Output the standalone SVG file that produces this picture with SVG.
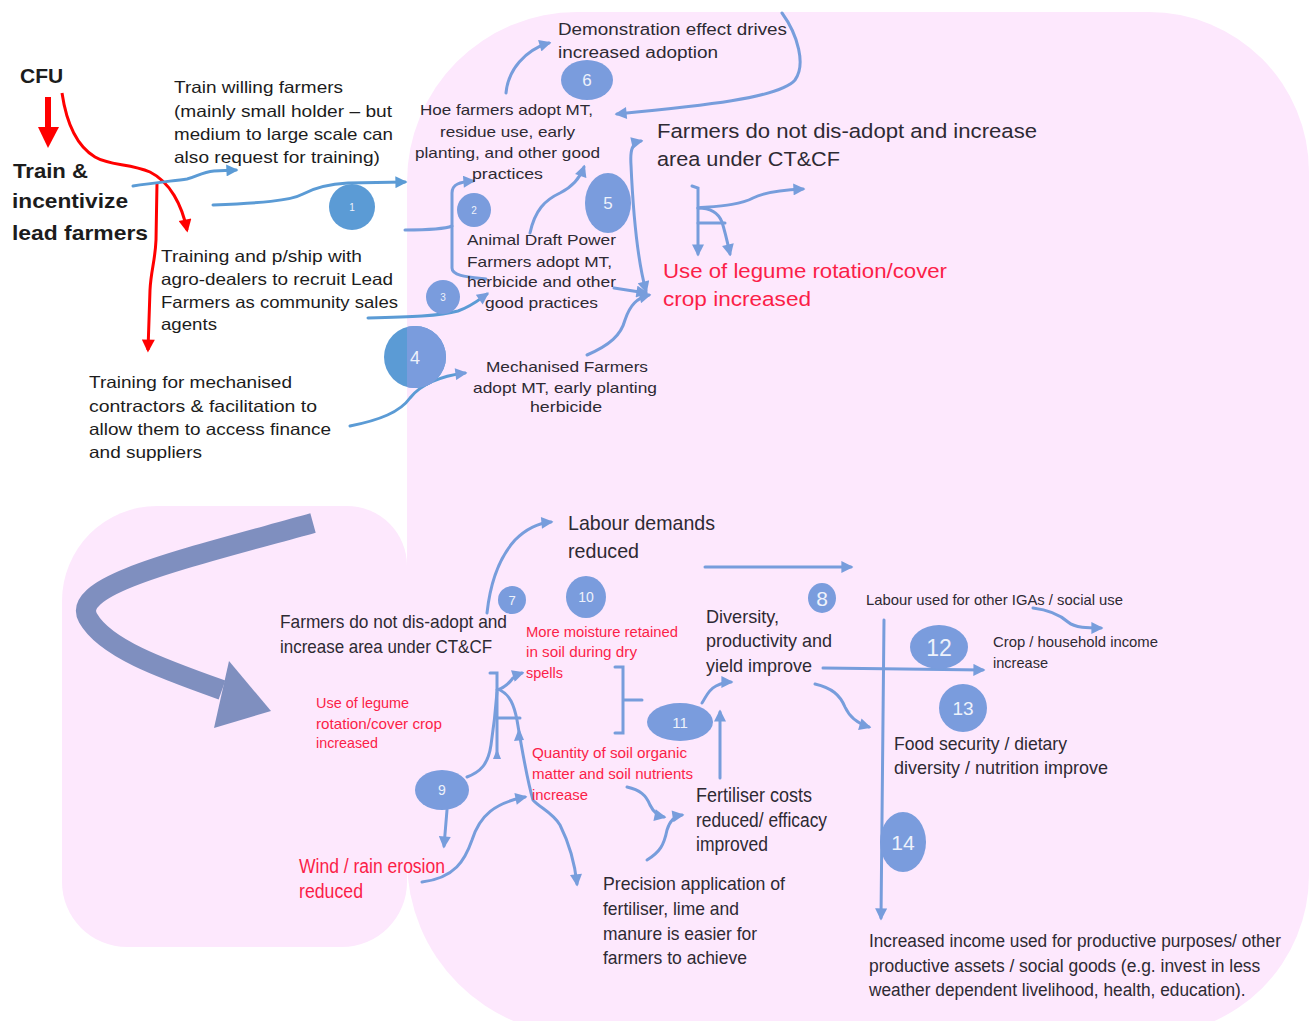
<svg xmlns="http://www.w3.org/2000/svg" width="1309" height="1021" viewBox="0 0 1309 1021">
<style>
.t{font-family:"Liberation Sans",Arial,sans-serif;fill:#1c1c1c}
.d{fill:#2e2a33}
.r{fill:#fb1e48}
.b{font-weight:bold}
.c{fill:none;stroke:#779ddc;stroke-width:3;stroke-linecap:round}
.co{fill:none;stroke:#5b9bd5;stroke-width:3;stroke-linecap:round}
.rc{fill:none;stroke:#ff0000;stroke-width:3}
.bi{fill:#7a9cdd}
.bo{fill:#5b9bd5}
.lbl{font-family:"Liberation Sans",Arial,sans-serif;fill:#eef2fb;text-anchor:middle}
</style>
<defs>
<marker id="ah" viewBox="0 0 10 10" markerUnits="userSpaceOnUse" markerWidth="13" markerHeight="12" refX="8" refY="5" orient="auto-start-reverse"><path d="M0,0 L10,5 L0,10 z" fill="#779ddc"/></marker>
<marker id="aho" viewBox="0 0 10 10" markerUnits="userSpaceOnUse" markerWidth="13" markerHeight="12" refX="8" refY="5" orient="auto"><path d="M0,0 L10,5 L0,10 z" fill="#5b9bd5"/></marker>
<marker id="ar" viewBox="0 0 10 10" markerUnits="userSpaceOnUse" markerWidth="15" markerHeight="13" refX="8" refY="5" orient="auto"><path d="M0,0 L10,5 L0,10 z" fill="#ff0000"/></marker>
<clipPath id="rightOf407"><rect x="407" y="300" width="60" height="120"/></clipPath>
</defs>

<g id="background">
<path d="M577,12 H1149 A160,160 0 0 1 1309,172 V875 A160,160 0 0 1 1149,1035 H582 A175,175 0 0 1 407,860 V182 A170,170 0 0 1 577,12 Z" fill="#fde8fd"/>
<path d="M157,506 H347 A60,60 0 0 1 407,566 V882 A65,65 0 0 1 342,947 H127 A65,65 0 0 1 62,882 V601 A95,95 0 0 1 157,506 Z" fill="#fde8fd"/>
</g>

<g id="connectors">
<line x1="48" y1="97" x2="48" y2="128" stroke="#ff0000" stroke-width="6"/>
<polygon points="38,127 59,127 48,148" fill="#ff0000"/>
<path class="rc" d="M62,93 C66,120 75,145 95,157 C110,166 130,163 150,172 C170,182 182,205 187,230" marker-end="url(#ar)"/>
<path class="rc" d="M157,183 L156,240 C155,262 151,270 150,290 L148,350" marker-end="url(#ar)"/>
<path class="co" d="M133,186 C152,183 172,181 187,179 C196,177 202,172 214,171 L236,170" marker-end="url(#aho)"/>
<path class="co" d="M213,205 C260,203 290,201 303,194 C314,188 330,184 348,183 L405,182" marker-end="url(#aho)"/>
<path class="co" d="M368,318 C410,317 440,316 458,311 C472,306 480,299 487,294" marker-end="url(#ah)"/>
<path class="co" d="M350,426 C380,420 400,412 410,398 C420,385 440,376 465,373" marker-end="url(#ah)"/>
<path class="c" d="M405,230 C430,230 445,229 452,226"/>
<path class="c" d="M486,279 C468,277 452,276 452,268 L452,193 C452,184 460,182 473,181" marker-end="url(#ah)"/>
<path class="c" d="M614,288 L646,293" marker-end="url(#ah)"/>
<path class="c" d="M646,291 C638,262 633,210 631,165 C630,150 632,143 641,141" marker-start="url(#ah)" marker-end="url(#ah)"/>
<path class="c" d="M530,233 C535,210 545,200 560,193 C572,187 580,178 584,167" marker-end="url(#ah)"/>
<path class="c" d="M587,355 C610,345 621,335 625,320 C630,305 637,298 649,295" marker-end="url(#ah)"/>
<path class="c" d="M506,93 C508,70 525,50 549,43" marker-end="url(#ah)"/>
<path class="c" d="M782,13 C798,35 806,65 795,80 C780,98 700,106 617,114" marker-end="url(#ah)"/>
<path class="c" d="M692,186 L698,188 L698,254" marker-end="url(#ah)"/>
<path class="c" d="M698,223 L725,223"/>
<path class="c" d="M698,208 C710,208 718,212 722,222 C726,235 728,245 730,254" marker-end="url(#ah)"/>
<path class="c" d="M698,208 C720,206 740,205 753,198 C765,192 780,190 803,189" marker-end="url(#ah)"/>
<path d="M313,523 C180,560 70,585 88,618 C105,648 160,668 222,690" fill="none" stroke="#7f8fbf" stroke-width="20"/>
<polygon points="229,661 271,711 214,728" fill="#7f8fbf"/>
<path class="c" d="M487,613 C490,585 497,560 515,540 C528,527 540,523 551,522" marker-end="url(#ah)"/>
<path class="c" d="M705,567 L851,567" marker-end="url(#ah)"/>
<path class="c" d="M490,673 L497,673 L497,757"/>
<polygon points="497,749 493,759 501,759" fill="#779ddc"/>
<path class="c" d="M497,718 L520,718"/>
<path class="c" d="M497,690 C505,688 510,682 513,678 C516,675 519,674 522,673" marker-end="url(#ah)"/>
<path class="c" d="M500,690 C510,695 514,705 517,720 C522,750 527,780 533,800 C540,808 552,812 560,825 C570,845 575,865 577,884" marker-end="url(#ah)"/>
<polygon points="519,728 514,741 524,740" fill="#779ddc"/>
<path class="c" d="M467,777 C480,772 488,765 491,745 C494,725 496,705 497,692"/>
<path class="c" d="M422,882 C455,878 465,860 472,840 C480,815 495,803 525,797" marker-end="url(#ah)"/>
<path class="c" d="M447,810 L444,846" marker-end="url(#ah)"/>
<path class="c" d="M615,667 L623,667 L623,733 L615,733 M623,700 L642,700"/>
<path class="c" d="M702,703 C706,697 708,690 716,686 C722,683 726,682 731,682" marker-end="url(#ah)"/>
<path class="c" d="M720,778 L720,712" marker-end="url(#ah)"/>
<path class="c" d="M627,787 C640,790 646,795 650,805 C654,813 659,816 664,817" marker-end="url(#ah)"/>
<path class="c" d="M647,860 C660,852 664,845 667,830 C670,820 675,816 682,815" marker-end="url(#ah)"/>
<path class="c" d="M823,668 L983,670" marker-end="url(#ah)"/>
<path class="c" d="M815,684 C832,688 840,695 845,707 C850,718 859,724 869,727" marker-end="url(#ah)"/>
<path class="c" d="M884,620 L881,918" marker-end="url(#ah)"/>
<path class="c" d="M1033,608 C1050,610 1060,615 1068,622 C1075,628 1088,628 1101,628" marker-end="url(#ah)"/>
</g>

<g id="badges">
<g id="badge-1"><circle cx="352" cy="207" r="23" class="bo"/><text x="352" y="211" font-size="10" class="lbl">1</text></g>
<g id="badge-2"><circle cx="474" cy="210" r="17" class="bi"/><text x="474" y="214" font-size="10" class="lbl">2</text></g>
<g id="badge-3"><circle cx="443" cy="297" r="17" class="bi"/><text x="443" y="301" font-size="10" class="lbl">3</text></g>
<g id="badge-4"><circle cx="415" cy="357" r="31" class="bo"/><circle cx="415" cy="357" r="31" class="bi" clip-path="url(#rightOf407)"/><text x="415" y="364" font-size="18" class="lbl">4</text></g>
<g id="badge-5"><ellipse cx="608" cy="203" rx="23" ry="30" class="bi"/><text x="608" y="209" font-size="17" class="lbl">5</text></g>
<g id="badge-6"><ellipse cx="587" cy="80" rx="26" ry="20" class="bi"/><text x="587" y="86" font-size="17" class="lbl">6</text></g>
<g id="badge-7"><circle cx="512" cy="600" r="14" class="bi"/><text x="512" y="605" font-size="13" class="lbl">7</text></g>
<g id="badge-8"><ellipse cx="822" cy="598" rx="14" ry="15" class="bi"/><text x="822" y="606" font-size="21" class="lbl">8</text></g>
<g id="badge-9"><ellipse cx="442" cy="790" rx="27" ry="20" class="bi"/><text x="442" y="795" font-size="14" class="lbl">9</text></g>
<g id="badge-10"><ellipse cx="586" cy="597" rx="20" ry="21" class="bi"/><text x="586" y="602" font-size="14" class="lbl">10</text></g>
<g id="badge-11"><ellipse cx="680" cy="722" rx="33" ry="19" class="bi"/><text x="680" y="728" font-size="15" class="lbl">11</text></g>
<g id="badge-12"><ellipse cx="939" cy="647" rx="29" ry="22" class="bi"/><text x="939" y="656" font-size="23" class="lbl">12</text></g>
<g id="badge-13"><circle cx="963" cy="708" r="24" class="bi"/><text x="963" y="715" font-size="19" class="lbl">13</text></g>
<g id="badge-14"><ellipse cx="903" cy="842" rx="23" ry="30" class="bi"/><text x="903" y="850" font-size="21" class="lbl">14</text></g>
</g>

<g id="node-cfu"><text x="20" y="83" font-size="21" class="t b">CFU</text></g>
<g id="node-train-lead" font-size="21">
<text x="13" y="178" class="t b" textLength="75" lengthAdjust="spacingAndGlyphs">Train &amp;</text>
<text x="12" y="208" class="t b" textLength="116" lengthAdjust="spacingAndGlyphs">incentivize</text>
<text x="12" y="240" class="t b" textLength="136" lengthAdjust="spacingAndGlyphs">lead farmers</text>
</g>
<g id="node-train-willing" font-size="16.5">
<text x="174" y="93" class="t" textLength="169" lengthAdjust="spacingAndGlyphs">Train willing farmers</text>
<text x="174" y="117" class="t" textLength="218" lengthAdjust="spacingAndGlyphs">(mainly small holder – but</text>
<text x="174" y="140" class="t" textLength="219" lengthAdjust="spacingAndGlyphs">medium to large scale can</text>
<text x="174" y="163" class="t" textLength="206" lengthAdjust="spacingAndGlyphs">also request for training)</text>
</g>
<g id="node-agro-dealers" font-size="16.5">
<text x="161" y="262" class="t" textLength="201" lengthAdjust="spacingAndGlyphs">Training and p/ship with</text>
<text x="161" y="285" class="t" textLength="232" lengthAdjust="spacingAndGlyphs">agro-dealers to recruit Lead</text>
<text x="161" y="308" class="t" textLength="237" lengthAdjust="spacingAndGlyphs">Farmers as community sales</text>
<text x="161" y="330" class="t" textLength="56" lengthAdjust="spacingAndGlyphs">agents</text>
</g>
<g id="node-mechanised-training" font-size="16.5">
<text x="89" y="388" class="t" textLength="203" lengthAdjust="spacingAndGlyphs">Training for mechanised</text>
<text x="89" y="412" class="t" textLength="228" lengthAdjust="spacingAndGlyphs">contractors &amp; facilitation to</text>
<text x="89" y="435" class="t" textLength="242" lengthAdjust="spacingAndGlyphs">allow them to access finance</text>
<text x="89" y="458" class="t" textLength="113" lengthAdjust="spacingAndGlyphs">and suppliers</text>
</g>
<g id="node-demonstration" font-size="16">
<text x="558" y="35" class="t d" textLength="229" lengthAdjust="spacingAndGlyphs">Demonstration effect drives</text>
<text x="558" y="58" class="t d" textLength="160" lengthAdjust="spacingAndGlyphs">increased adoption</text>
</g>
<g id="node-hoe" font-size="14.5">
<text x="420" y="115" class="t d" textLength="173" lengthAdjust="spacingAndGlyphs">Hoe farmers adopt MT,</text>
<text x="440" y="137" class="t d" textLength="135" lengthAdjust="spacingAndGlyphs">residue use, early</text>
<text x="415" y="158" class="t d" textLength="185" lengthAdjust="spacingAndGlyphs">planting, and other good</text>
<text x="472" y="179" class="t d" textLength="71" lengthAdjust="spacingAndGlyphs">practices</text>
</g>
<g id="node-animal" font-size="14.5">
<text x="467" y="245" class="t d" textLength="149" lengthAdjust="spacingAndGlyphs">Animal Draft Power</text>
<text x="467" y="267" class="t d" textLength="145" lengthAdjust="spacingAndGlyphs">Farmers adopt MT,</text>
<text x="467" y="287" class="t d" textLength="149" lengthAdjust="spacingAndGlyphs">herbicide and other</text>
<text x="485" y="308" class="t d" textLength="113" lengthAdjust="spacingAndGlyphs">good practices</text>
</g>
<g id="node-mechanised" font-size="14.5">
<text x="486" y="372" class="t d" textLength="162" lengthAdjust="spacingAndGlyphs">Mechanised Farmers</text>
<text x="473" y="393" class="t d" textLength="184" lengthAdjust="spacingAndGlyphs">adopt MT, early planting</text>
<text x="530" y="412" class="t d" textLength="72" lengthAdjust="spacingAndGlyphs">herbicide</text>
</g>
<g id="node-no-disadopt-top" font-size="20.5">
<text x="657" y="138" class="t d" textLength="380" lengthAdjust="spacingAndGlyphs">Farmers do not dis-adopt and increase</text>
<text x="657" y="166" class="t d" textLength="183" lengthAdjust="spacingAndGlyphs">area under CT&amp;CF</text>
</g>
<g id="node-legume-top" font-size="20.5">
<text x="663" y="278" class="t r" textLength="284" lengthAdjust="spacingAndGlyphs">Use of legume rotation/cover</text>
<text x="663" y="306" class="t r" textLength="148" lengthAdjust="spacingAndGlyphs">crop increased</text>
</g>
<g id="node-no-disadopt-bottom" font-size="18.5">
<text x="280" y="628" class="t d" textLength="227" lengthAdjust="spacingAndGlyphs">Farmers do not dis-adopt and</text>
<text x="280" y="653" class="t d" textLength="212" lengthAdjust="spacingAndGlyphs">increase area under CT&amp;CF</text>
</g>
<g id="node-legume-bottom" font-size="14.5">
<text x="316" y="708" class="t r" textLength="93" lengthAdjust="spacingAndGlyphs">Use of legume</text>
<text x="316" y="729" class="t r" textLength="126" lengthAdjust="spacingAndGlyphs">rotation/cover crop</text>
<text x="316" y="748" class="t r" textLength="62" lengthAdjust="spacingAndGlyphs">increased</text>
</g>
<g id="node-erosion" font-size="19.5">
<text x="299" y="873" class="t r" textLength="146" lengthAdjust="spacingAndGlyphs">Wind / rain erosion</text>
<text x="299" y="898" class="t r" textLength="64" lengthAdjust="spacingAndGlyphs">reduced</text>
</g>
<g id="node-labour" font-size="21">
<text x="568" y="530" class="t d" textLength="147" lengthAdjust="spacingAndGlyphs">Labour demands</text>
<text x="568" y="558" class="t d" textLength="71" lengthAdjust="spacingAndGlyphs">reduced</text>
</g>
<g id="node-moisture" font-size="14">
<text x="526" y="637" class="t r" textLength="152" lengthAdjust="spacingAndGlyphs">More moisture retained</text>
<text x="526" y="657" class="t r" textLength="111" lengthAdjust="spacingAndGlyphs">in soil during dry</text>
<text x="526" y="678" class="t r" textLength="37" lengthAdjust="spacingAndGlyphs">spells</text>
</g>
<g id="node-organic" font-size="14">
<text x="532" y="758" class="t r" textLength="155" lengthAdjust="spacingAndGlyphs">Quantity of soil organic</text>
<text x="532" y="779" class="t r" textLength="161" lengthAdjust="spacingAndGlyphs">matter and soil nutrients</text>
<text x="532" y="800" class="t r" textLength="56" lengthAdjust="spacingAndGlyphs">increase</text>
</g>
<g id="node-diversity" font-size="18.5">
<text x="706" y="623" class="t d" textLength="73" lengthAdjust="spacingAndGlyphs">Diversity,</text>
<text x="706" y="647" class="t d" textLength="126" lengthAdjust="spacingAndGlyphs">productivity and</text>
<text x="706" y="672" class="t d" textLength="106" lengthAdjust="spacingAndGlyphs">yield improve</text>
</g>
<g id="node-fertiliser" font-size="19.5">
<text x="696" y="802" class="t d" textLength="116" lengthAdjust="spacingAndGlyphs">Fertiliser costs</text>
<text x="696" y="827" class="t d" textLength="131" lengthAdjust="spacingAndGlyphs">reduced/ efficacy</text>
<text x="696" y="851" class="t d" textLength="72" lengthAdjust="spacingAndGlyphs">improved</text>
</g>
<g id="node-precision" font-size="18.5">
<text x="603" y="890" class="t d" textLength="182" lengthAdjust="spacingAndGlyphs">Precision application of</text>
<text x="603" y="915" class="t d" textLength="136" lengthAdjust="spacingAndGlyphs">fertiliser, lime and</text>
<text x="603" y="940" class="t d" textLength="154" lengthAdjust="spacingAndGlyphs">manure is easier for</text>
<text x="603" y="964" class="t d" textLength="144" lengthAdjust="spacingAndGlyphs">farmers to achieve</text>
</g>
<g id="node-labour-igas" font-size="14.5">
<text x="866" y="605" class="t d" textLength="257" lengthAdjust="spacingAndGlyphs">Labour used for other IGAs / social use</text>
</g>
<g id="node-income" font-size="14.5">
<text x="993" y="647" class="t d" textLength="165" lengthAdjust="spacingAndGlyphs">Crop / household income</text>
<text x="993" y="668" class="t d" textLength="55" lengthAdjust="spacingAndGlyphs">increase</text>
</g>
<g id="node-food" font-size="18.5">
<text x="894" y="750" class="t d" textLength="173" lengthAdjust="spacingAndGlyphs">Food security / dietary</text>
<text x="894" y="774" class="t d" textLength="214" lengthAdjust="spacingAndGlyphs">diversity / nutrition improve</text>
</g>
<g id="node-productive" font-size="19">
<text transform="translate(869,947) scale(0.86,1)" x="0" y="0" class="t d" textLength="479" lengthAdjust="spacingAndGlyphs">Increased income used for productive purposes/ other</text>
<text transform="translate(869,972) scale(0.86,1)" x="0" y="0" class="t d" textLength="455" lengthAdjust="spacingAndGlyphs">productive assets / social goods (e.g. invest in less</text>
<text transform="translate(869,996) scale(0.86,1)" x="0" y="0" class="t d" textLength="438" lengthAdjust="spacingAndGlyphs">weather dependent livelihood, health, education).</text>
</g>
</svg>
